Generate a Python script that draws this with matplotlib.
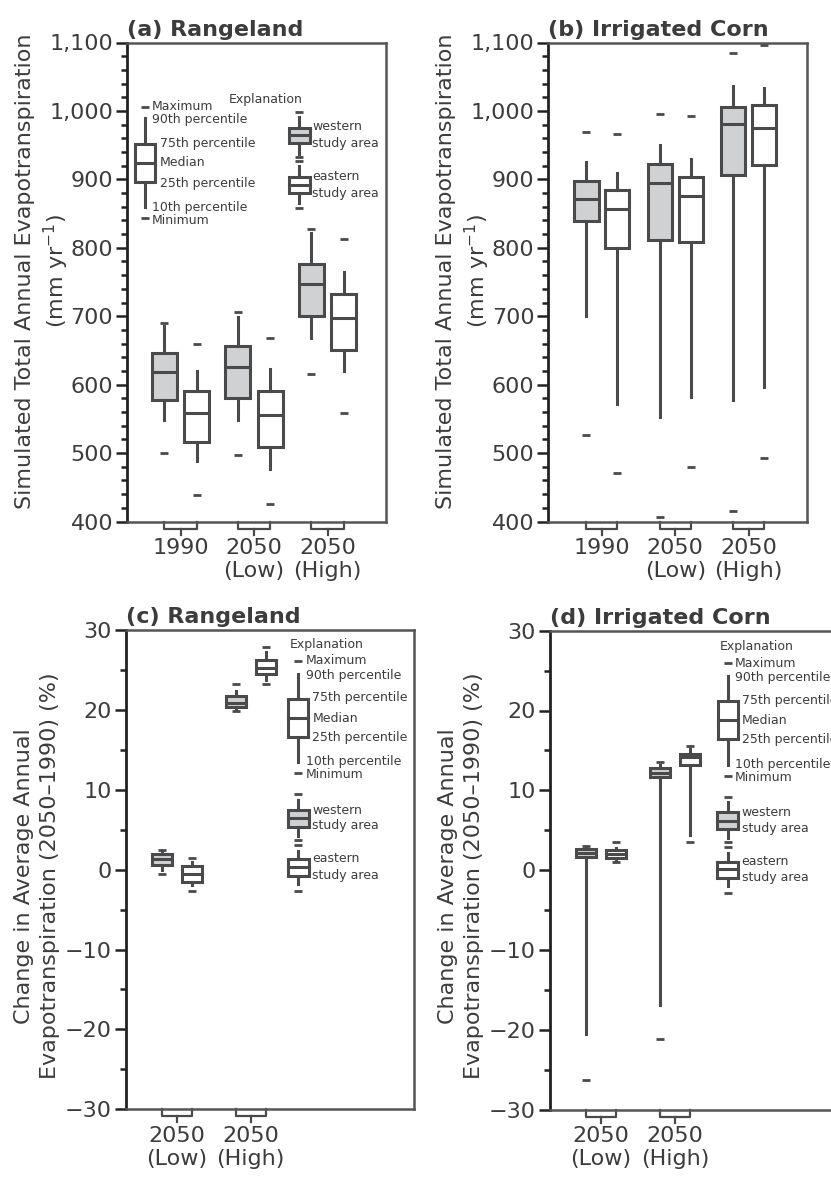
import matplotlib
matplotlib.use("Agg")
import matplotlib.pyplot as plt
from matplotlib.ticker import MultipleLocator, FuncFormatter
from matplotlib.patches import Rectangle

# ---- data ----
groups_abc = ["1990", "2050\n(Low)", "2050\n(High)"]
groups_cd = ["2050\n(Low)", "2050\n(High)"]

# (a) rangeland, simulated ET, mm/yr
a_west_min = [500, 497, 615]
a_west_p10 = [549, 549, 668]
a_west_q1 = [577, 580, 701]
a_west_med = [618, 626, 747]
a_west_q3 = [646, 656, 777]
a_west_p90 = [685, 699, 822]
a_west_max = [690, 706, 828]

a_east_min = [439, 425, 559]
a_east_p10 = [489, 477, 620]
a_east_q1 = [516, 509, 650]
a_east_med = [559, 556, 698]
a_east_q3 = [591, 590, 733]
a_east_p90 = [620, 623, 764]
a_east_max = [660, 668, 813]

# (b) irrigated corn, simulated ET, mm/yr
b_west_min = [526, 406, 415]
b_west_p10 = [700, 553, 577]
b_west_q1 = [839, 812, 906]
b_west_med = [871, 895, 981]
b_west_q3 = [898, 922, 1006]
b_west_p90 = [925, 950, 1037]
b_west_max = [969, 995, 1084]

b_east_min = [471, 480, 493]
b_east_p10 = [572, 582, 596]
b_east_q1 = [800, 809, 921]
b_east_med = [856, 875, 975]
b_east_q3 = [884, 903, 1008]
b_east_p90 = [909, 930, 1034]
b_east_max = [966, 993, 1096]

# (c) rangeland, change in ET, %
c_west_min = [-0.6, 19.9]
c_west_p10 = [-0.1, 20.1]
c_west_q1 = [0.6, 20.3]
c_west_med = [1.3, 20.9]
c_west_q3 = [1.9, 21.7]
c_west_p90 = [2.3, 22.4]
c_west_max = [2.5, 23.2]

c_east_min = [-2.7, 23.3]
c_east_p10 = [-1.9, 23.7]
c_east_q1 = [-1.5, 24.5]
c_east_med = [-0.5, 25.3]
c_east_q3 = [0.4, 26.3]
c_east_p90 = [1.0, 27.3]
c_east_max = [1.4, 27.9]

# (d) irrigated corn, change in ET, %
d_west_min = [-26.3, -21.2]
d_west_p10 = [-20.6, -16.9]
d_west_q1 = [1.7, 11.7]
d_west_med = [2.2, 12.2]
d_west_q3 = [2.7, 12.8]
d_west_p90 = [2.85, 13.2]
d_west_max = [3.0, 13.6]

d_east_min = [1.05, 3.5]
d_east_p10 = [1.3, 4.4]
d_east_q1 = [1.5, 13.2]
d_east_med = [2.0, 14.2]
d_east_q3 = [2.5, 14.6]
d_east_p90 = [2.8, 15.2]
d_east_max = [3.5, 15.6]

EDGE = "#4a4a4a"
FILL = "#d0d1d3"
TXT = "#3c3c3c"
LW = 2.2
FW, FH = 831, 1180

plt.rcParams["font.family"] = "DejaVu Sans"
plt.rcParams["text.color"] = TXT


def make_stats(mn, p10, q1, med, q3, p90, mx):
    return [dict(whislo=a, q1=b, med=c, q3=d, whishi=e, fliers=[f, g])
            for f, a, b, c, d, e, g in zip(mn, p10, q1, med, q3, p90, mx)]


def draw_boxes(ax, west, east, off, width):
    pos = list(range(1, len(west) + 1))
    for st, sign, fc in [(west, -1, FILL), (east, 1, "white")]:
        ax.bxp(st, positions=[p + sign * off for p in pos], widths=width,
               patch_artist=True, showcaps=False, manage_ticks=False,
               boxprops=dict(facecolor=fc, edgecolor=EDGE, linewidth=LW),
               whiskerprops=dict(color=EDGE, linewidth=LW),
               medianprops=dict(color=EDGE, linewidth=LW),
               flierprops=dict(marker="_", markersize=6, markeredgewidth=2,
                               markeredgecolor=EDGE, linestyle="none"))
    # bracket under the axis joining each pair
    H = ax.get_position().height * FH
    tr = ax.get_xaxis_transform()
    for p in pos:
        ax.plot([p - off, p - off, p + off, p + off], [0, -7 / H, -7 / H, 0],
                transform=tr, color=EDGE, lw=1.6, clip_on=False)
        ax.plot([p, p], [-7 / H, -13 / H], transform=tr, color=EDGE, lw=1.6,
                clip_on=False)
    return pos


def setup(ax, title, labels, pos, ylim, major, minor, xlim, fmt=None):
    ax.set_ylim(*ylim)
    ax.set_xlim(*xlim)
    ax.yaxis.set_major_locator(MultipleLocator(major))
    ax.yaxis.set_minor_locator(MultipleLocator(minor))
    if fmt:
        ax.yaxis.set_major_formatter(FuncFormatter(fmt))
    ax.set_xticks(pos)
    ax.set_xticklabels(labels)
    ax.tick_params(axis="x", length=0, pad=12, labelsize=16, labelcolor=TXT)
    ax.tick_params(axis="y", which="major", length=8, width=1.8, pad=2,
                   labelsize=16, labelcolor=TXT, color="#222222")
    ax.tick_params(axis="y", which="minor", length=4, width=1.8, color="#222222")
    for s in ["top", "right", "bottom"]:
        ax.spines[s].set_color("#555555")
        ax.spines[s].set_linewidth(1.8)
    ax.spines["left"].set_color("#222222")
    ax.spines["left"].set_linewidth(2)
    ax.set_title(title, loc="left", fontsize=16, fontweight="bold", pad=5,
                 color=TXT)


def legend(ax, generic, west, east, texts, expl):
    # everything given in pixel offsets from the axes' top-left corner
    bb = ax.get_position()
    W, H = bb.width * FW, bb.height * FH
    t = ax.transAxes

    def key(cx, ys, fc, w):
        mx, p90, q3, med, q1, p10, mn = ys
        ax.add_patch(Rectangle(((cx - w / 2) / W, 1 - q1 / H), w / W, (q1 - q3) / H,
                               transform=t, facecolor=fc, edgecolor=EDGE, lw=LW,
                               clip_on=False))
        kw = dict(transform=t, color=EDGE, lw=LW, clip_on=False)
        ax.plot([cx / W] * 2, [1 - p90 / H, 1 - q3 / H], **kw)
        ax.plot([cx / W] * 2, [1 - q1 / H, 1 - p10 / H], **kw)
        ax.plot([(cx - w / 2) / W, (cx + w / 2) / W], [1 - med / H] * 2, **kw)
        for v in (mx, mn):
            ax.plot([cx / W], [1 - v / H], marker="_", markersize=6,
                    markeredgewidth=2, color=EDGE, transform=t, clip_on=False)

    key(generic[0], generic[1], "white", 20)
    key(west[0], west[1], FILL, 21)
    key(east[0], east[1], "white", 21)
    ex, ey, eha = expl
    ax.text(ex / W, 1 - ey / H, "Explanation", transform=t, fontsize=9,
            ha=eha, va="center", color=TXT)
    for x, y, s in texts:
        ax.text(x / W, 1 - y / H, s, transform=t, fontsize=9, ha="left",
                va="center", color=TXT, clip_on=False)


fig = plt.figure(figsize=(FW / 100, FH / 100), dpi=100)
ax_a = fig.add_axes([127 / FW, 1 - 521.5 / FH, 259 / FW, 479 / FH])
ax_b = fig.add_axes([548.3 / FW, 1 - 521.5 / FH, 258.4 / FW, 479 / FH])
ax_c = fig.add_axes([125.7 / FW, 1 - 1109.3 / FH, 288.6 / FW, 479.3 / FH])
ax_d = fig.add_axes([550 / FW, 1 - 1109.5 / FH, 288.6 / FW, 478.8 / FH])

thousands = lambda v, p: "{:,.0f}".format(v)

pos = draw_boxes(ax_a,
                 make_stats(a_west_min, a_west_p10, a_west_q1, a_west_med, a_west_q3, a_west_p90, a_west_max),
                 make_stats(a_east_min, a_east_p10, a_east_q1, a_east_med, a_east_q3, a_east_p90, a_east_max),
                 0.22, 0.34)
setup(ax_a, "(a) Rangeland", groups_abc, pos, (400, 1100), 100, 20, (0.27, 3.794), thousands)

pos = draw_boxes(ax_b,
                 make_stats(b_west_min, b_west_p10, b_west_q1, b_west_med, b_west_q3, b_west_p90, b_west_max),
                 make_stats(b_east_min, b_east_p10, b_east_q1, b_east_med, b_east_q3, b_east_p90, b_east_max),
                 0.21, 0.33)
setup(ax_b, "(b) Irrigated Corn", groups_abc, pos, (400, 1100), 100, 20, (0.27, 3.79), thousands)

pos = draw_boxes(ax_c,
                 make_stats(c_west_min, c_west_p10, c_west_q1, c_west_med, c_west_q3, c_west_p90, c_west_max),
                 make_stats(c_east_min, c_east_p10, c_east_q1, c_east_med, c_east_q3, c_east_p90, c_east_max),
                 0.2, 0.27)
setup(ax_c, "(c) Rangeland", groups_cd, pos, (-30, 30), 10, 5, (0.31, 4.21))

pos = draw_boxes(ax_d,
                 make_stats(d_west_min, d_west_p10, d_west_q1, d_west_med, d_west_q3, d_west_p90, d_west_max),
                 make_stats(d_east_min, d_east_p10, d_east_q1, d_east_med, d_east_q3, d_east_p90, d_east_max),
                 0.2, 0.27)
setup(ax_d, "(d) Irrigated Corn", groups_cd, pos, (-30, 30), 10, 5, (0.31, 4.21))

# explanation keys
legend(ax_a,
       (18, [64.2, 75.8, 101.5, 120.8, 139.8, 164.8, 175.8]),
       (172, [69.2, 74.2, 85.2, 92.5, 100.2, 111.5, 114.8]),
       (172, [118.5, 123.2, 134.2, 142.5, 150.8, 160.8, 165.2]),
       [(24.7, 64.2, "Maximum"), (24.7, 77.5, "90th percentile"),
        (33, 100.5, "75th percentile"), (33, 120.5, "Median"),
        (33, 140.5, "25th percentile"), (24.7, 164.5, "10th percentile"),
        (24.7, 177.5, "Minimum"), (185, 84.5, "western"), (185, 100.5, "study area"),
        (185, 133.5, "eastern"), (185, 150.5, "study area")],
       (139, 56.5, "center"))

for ax, dx, dy in [(ax_c, 0, 0), (ax_d, 5, 1.5)]:
    legend(ax,
           (172.6 + dx, [v + dy for v in [31, 44, 68.7, 87.7, 106.7, 132.3, 143.3]]),
           (172.6 + dx, [v + dy for v in [164.3, 170, 180, 188.3, 196.7, 206, 210]]),
           (172.6 + dx, [v + dy for v in [215, 220.7, 229.3, 236.7, 246, 254, 261]]),
           [(x + dx, y + dy, s) for x, y, s in [
               (180, 31, "Maximum"), (180, 45, "90th percentile"),
               (186.6, 68, "75th percentile"), (186.6, 88, "Median"),
               (186.6, 107, "25th percentile"), (180, 132, "10th percentile"),
               (180, 145, "Minimum"), (186.6, 180, "western"), (186.6, 196, "study area"),
               (186.6, 229, "eastern"), (186.6, 245, "study area")]],
           (164.3 + dx, 14.3 + dy, "left"))

# y-axis labels, one text per line
top1, top2 = "Simulated Total Annual Evapotranspiration", "(mm yr$^{-1}$)"
bot1, bot2 = "Change in Average Annual", "Evapotranspiration (2050\u20131990) (%)"
for x, y, s in [(25, 271, top1), (56, 271, top2),
                (446, 271, top1), (477, 271, top2),
                (24, 876, bot1), (50, 876, bot2),
                (448, 876, bot1), (474, 876, bot2)]:
    fig.text(x / FW, 1 - y / FH, s, rotation=90, ha="center", va="center",
             fontsize=16, color=TXT)

fig.savefig("out.png", dpi=100)
